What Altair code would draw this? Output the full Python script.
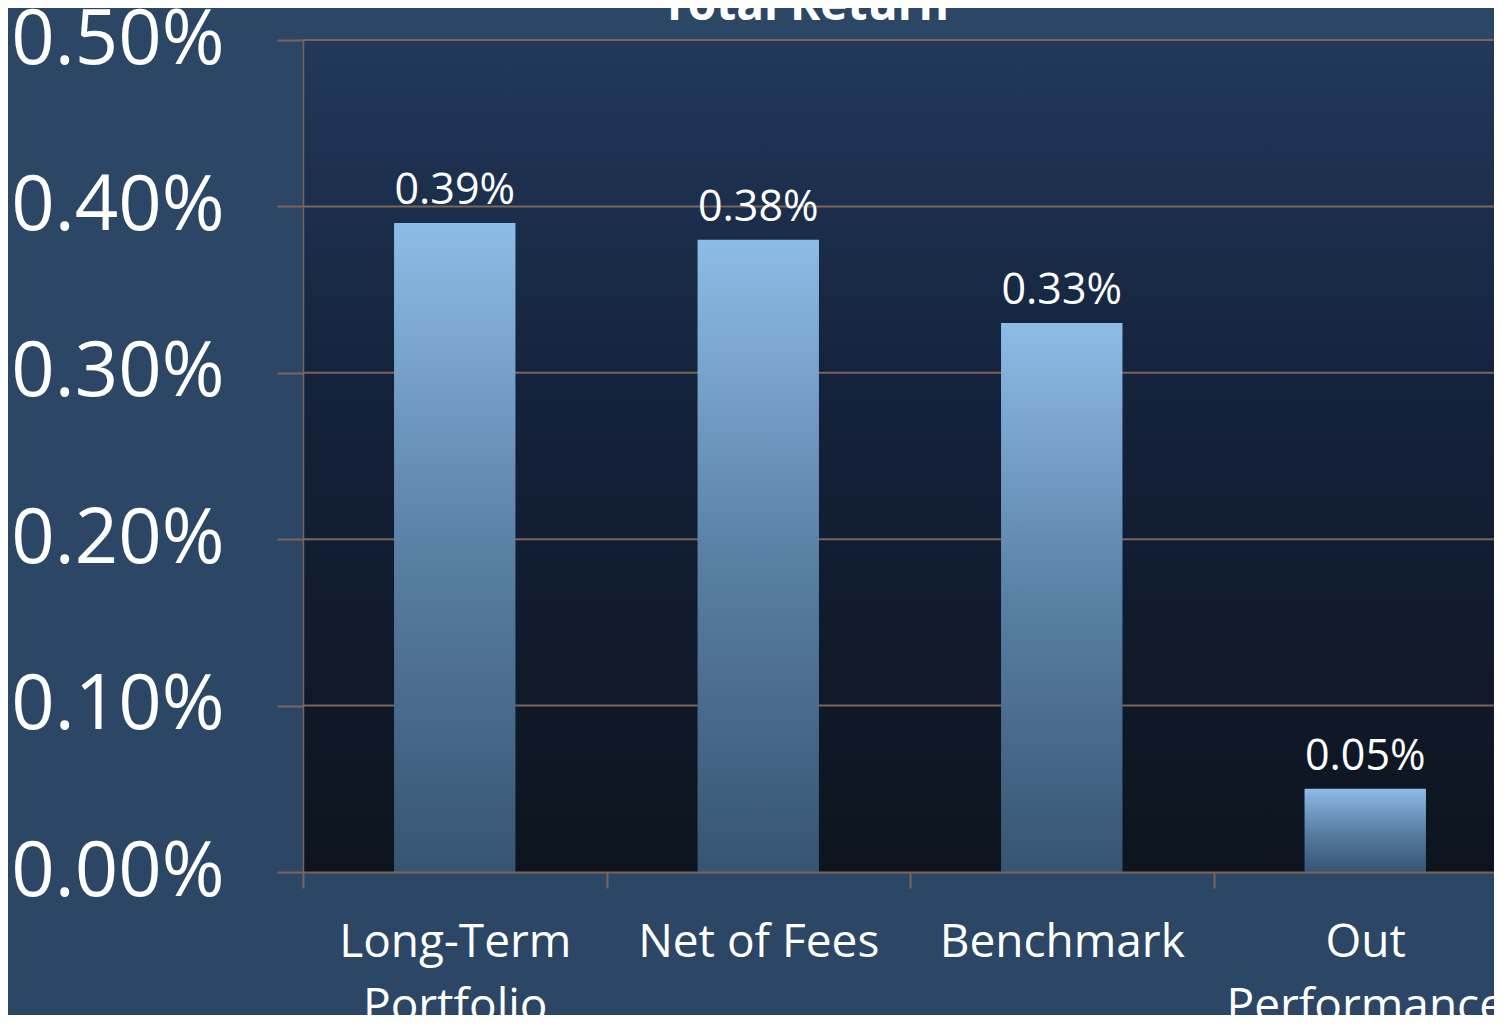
import altair as alt
import pandas as pd

categories = ["Long-Term\nPortfolio", "Net of Fees", "Benchmark", "Out\nPerformance"]
values = [0.0039, 0.0038, 0.0033, 0.0005]
value_labels = ["0.39%", "0.38%", "0.33%", "0.05%"]
y_ticks = [0.0, 0.001, 0.002, 0.003, 0.004, 0.005]
title_text = "Total Return"

df = pd.DataFrame({"category": categories, "value": values, "label": value_labels})
grid_df = pd.DataFrame({"value": y_ticks[1:]})
bg_df = pd.DataFrame({"k": [0]})
title_df = pd.DataFrame({"t": [title_text]})

FONT = "Open Sans"
GRID = "#7d6457"
STEP = 1214 / 4

y_scale = alt.Scale(domain=[0, 0.005], nice=False, zero=True)
x_scale = alt.Scale(range=[0, 1214], paddingInner=0.6, paddingOuter=0.3)

y_axis = alt.Axis(
    title=None,
    values=y_ticks,
    format=".2%",
    labelFontSize=76,
    labelFont=FONT,
    labelColor="white",
    labelPadding=53,
    labelLimit=0,
    labelOverlap=False,
    tickSize=26,
    tickColor=GRID,
    tickWidth=2,
    domainColor=GRID,
    domainWidth=1.5,
    grid=False,
    zindex=1,
)

x_axis = alt.Axis(
    title=None,
    labelAngle=0,
    labelFontSize=46,
    labelLineHeight=64,
    labelExpr="split(datum.label, '\\n')",
    labelPadding=32,
    labelLimit=0,
    labelOverlap=False,
    tickSize=16,
    tickOffset=-STEP / 2,
    labelOffset=STEP / 2,
    tickColor=GRID,
    tickWidth=2,
    domainColor=GRID,
    domainWidth=2,
    labelColor="white",
    labelFont=FONT,
    zindex=1,
)

bg = alt.Chart(bg_df).mark_rect(
    fill=alt.LinearGradient(
        gradient="linear",
        stops=[
            alt.GradientStop(color="#22395a", offset=0),
            alt.GradientStop(color="#13213a", offset=0.45),
            alt.GradientStop(color="#0d141e", offset=1),
        ],
        x1=0, x2=0, y1=0, y2=1,
    )
).encode(
    x=alt.value(0), x2=alt.value("width"), y=alt.value(0), y2=alt.value("height")
)

grid = alt.Chart(grid_df).mark_rule(color=GRID, strokeWidth=2).encode(
    y=alt.Y("value:Q", scale=y_scale, axis=y_axis)
)

bars = alt.Chart(df).mark_bar(
    fill=alt.LinearGradient(
        gradient="linear",
        stops=[
            alt.GradientStop(color="#8dbce6", offset=0),
            alt.GradientStop(color="#5a80a6", offset=0.5),
            alt.GradientStop(color="#365472", offset=1),
        ],
        x1=0, x2=0, y1=0, y2=1,
    )
).encode(
    x=alt.X("category:N", sort=categories, scale=x_scale, axis=x_axis),
    y=alt.Y("value:Q", scale=y_scale, axis=y_axis),
)

text = alt.Chart(df).mark_text(
    dy=-19, baseline="alphabetic", align="center", fontSize=43, color="white", font=FONT
).encode(
    x=alt.X("category:N", sort=categories, scale=x_scale, axis=x_axis),
    y=alt.Y("value:Q", scale=y_scale, axis=y_axis),
    text="label:N",
)

title_mark = alt.Chart(title_df).mark_text(
    align="center", baseline="alphabetic", fontSize=46, fontWeight="bold",
    color="white", font=FONT
).encode(
    x=alt.value(502), y=alt.value(-20), text="t:N"
)

chart = alt.layer(bg, grid, bars, text, title_mark).properties(
    width=1191,
    height=832,
    autosize=alt.AutoSizeParams(type="none"),
    padding={"left": 295, "top": 32, "right": 0, "bottom": 143},
).configure(background="#2c4666").configure_view(stroke=None)

chart.save("out.html", embed_options={"renderer": "svg", "actions": False})
